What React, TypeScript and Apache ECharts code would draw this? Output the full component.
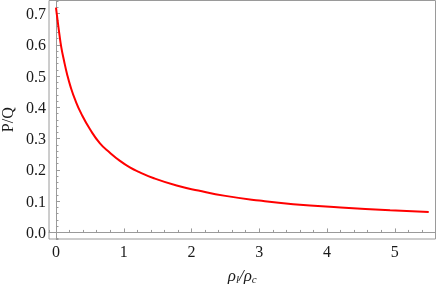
import React, { useEffect, useRef } from "react";
import * as echarts from "echarts";

const xValues = [0, 0.025, 0.049, 0.078, 0.118, 0.162, 0.217, 0.285, 0.373, 0.502, 0.649, 0.796, 0.944, 1.09, 1.23, 1.435, 1.78, 2.1, 2.5, 3.0, 3.5, 4.2, 4.93, 5.5];
const yValues = [0.719, 0.676, 0.636, 0.593, 0.55, 0.508, 0.465, 0.423, 0.38, 0.33, 0.285, 0.255, 0.229, 0.208, 0.193, 0.174, 0.15, 0.134, 0.117, 0.102, 0.0905, 0.08, 0.071, 0.065];
const yAxisTitle = "P/Q";

const SERIF = "'Liberation Serif', 'Times New Roman', serif";
const FRAME = "#9a9a9a";

export default function App() {
  const ref = useRef<HTMLDivElement>(null);
  useEffect(() => {
    if (!ref.current) return;
    const chart = echarts.init(ref.current, undefined, { renderer: "svg" });
    const data = xValues.map((x, i) => [x, yValues[i]]);
    const xBase = { min: -0.103, max: 5.6, type: "value" as const, gridIndex: 0 };
    const yBase = { min: -0.021, max: 0.742, type: "value" as const, gridIndex: 0 };
    chart.setOption({
      animation: false,
      grid: {
        left: 49,
        right: 0.5,
        top: 0.5,
        bottom: 45,
        containLabel: false,
        outerBoundsMode: "none",
        show: true,
        borderColor: FRAME,
        borderWidth: 1,
        backgroundColor: "transparent",
      },
      xAxis: [
        {
          ...xBase,
          position: "bottom",
          splitNumber: 6,
          axisLine: { show: true, lineStyle: { color: FRAME, width: 1 } },
          axisTick: { show: true, inside: true, length: 4, lineStyle: { color: FRAME } },
          axisLabel: {
            show: true,
            showMinLabel: false,
            showMaxLabel: false,
            margin: 4,
            color: "#1a1a1a",
            fontFamily: SERIF,
            fontSize: 16,
          },
          splitLine: { show: false },
          name: "{i|ρ}{s|l}{i|/ρ}{s|c}",
          nameLocation: "middle",
          nameGap: 27,
          nameTextStyle: {
            rich: {
              i: { fontFamily: SERIF, fontStyle: "italic", fontSize: 17, color: "#1a1a1a" },
              s: { fontFamily: SERIF, fontStyle: "italic", fontSize: 11, color: "#1a1a1a", padding: [7, 0, 0, 0] },
            },
          },
        },
        {
          ...xBase,
          position: "bottom",
          splitNumber: 28,
          axisLine: { show: false },
          axisTick: { show: true, inside: true, length: 2.5, lineStyle: { color: FRAME } },
          axisLabel: { show: false },
          splitLine: { show: false },
        },
      ],
      yAxis: [
        {
          ...yBase,
          position: "left",
          splitNumber: 7,
          axisLine: { show: true, lineStyle: { color: FRAME, width: 1 } },
          axisTick: { show: true, inside: true, length: 4, lineStyle: { color: FRAME } },
          axisLabel: {
            show: true,
            showMinLabel: false,
            showMaxLabel: false,
            margin: 3,
            color: "#1a1a1a",
            fontFamily: SERIF,
            fontSize: 16,
            formatter: (v: number) => v.toFixed(1),
          },
          splitLine: { show: false },
          name: yAxisTitle,
          nameLocation: "middle",
          nameGap: 30,
          nameTextStyle: { fontFamily: SERIF, fontSize: 16, color: "#1a1a1a" },
        },
        {
          ...yBase,
          position: "left",
          splitNumber: 38,
          axisLine: { show: false },
          axisTick: { show: true, inside: true, length: 2.5, lineStyle: { color: FRAME } },
          axisLabel: { show: false },
          splitLine: { show: false },
        },
      ],
      series: [
        {
          type: "line",
          xAxisIndex: 0,
          yAxisIndex: 0,
          data,
          smooth: 0.5,
          showSymbol: false,
          symbol: "none",
          lineStyle: { color: "#ff0000", width: 2 },
          clip: true,
        },
      ],
    });
    return () => chart.dispose();
  }, []);
  return <div ref={ref} style={{ position: "fixed", left: 0, top: 0, width: 436, height: 284 }} />;
}
